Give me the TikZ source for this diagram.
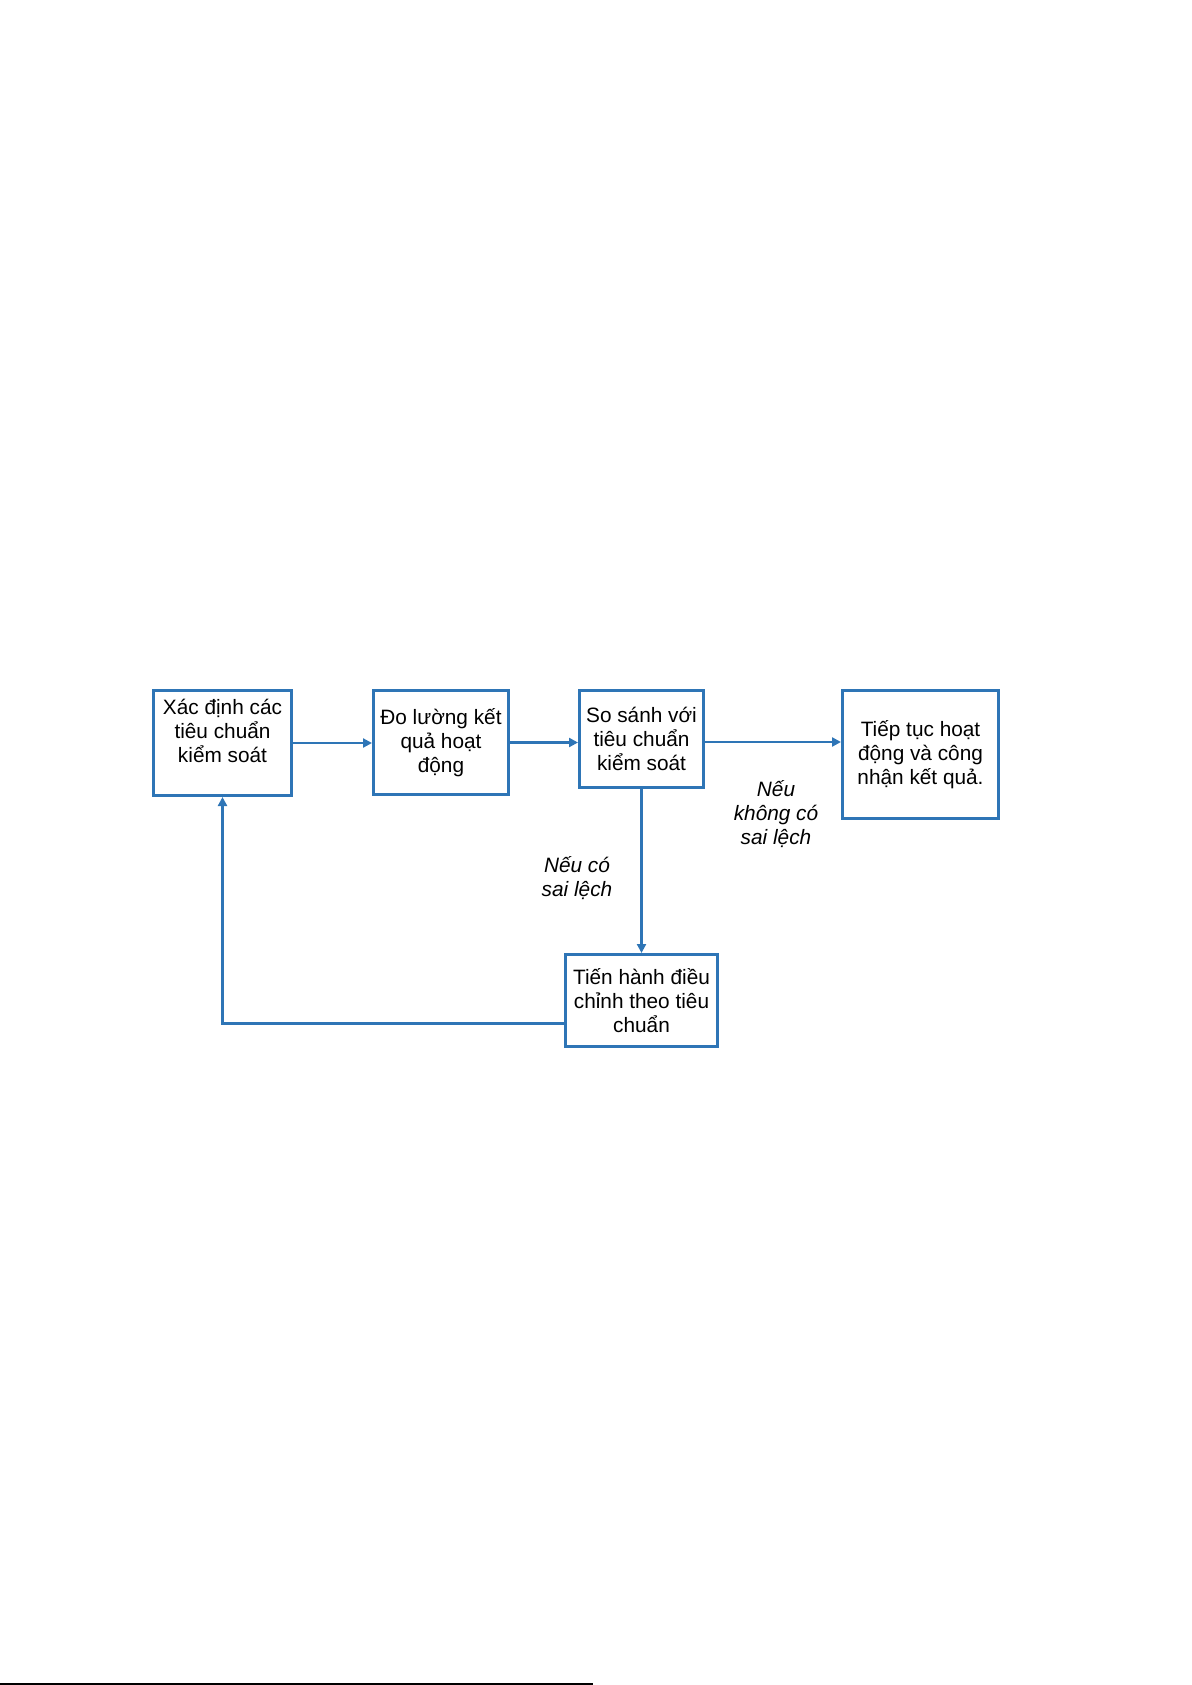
\documentclass[tikz,border=0pt]{standalone}
\usepackage{fontspec}
\setmainfont{Liberation Sans}
\usetikzlibrary{arrows.meta,positioning}
\definecolor{FlowBlue}{HTML}{2E75B6}

\begin{document}
\begin{tikzpicture}[
    box/.style={draw=FlowBlue,line width=1.5pt,align=center,inner sep=2pt,
                font=\fontsize{10.4}{12}\selectfont},
    arr/.style={-{Triangle[length=4.5pt,width=4.5pt]},line width=1.3pt,FlowBlue},
    note/.style={align=center,font=\fontsize{10.4}{12}\selectfont\itshape}]
    \useasboundingbox (0,0) rectangle (595.5pt,-842.5pt);
    \node[box,minimum width=69pt,minimum height=52.5pt,anchor=north west] (std) at (76pt,-344.5pt)
        {Xác định các\\tiêu chuẩn\\kiểm soát\\\mbox{}};
    \node[box,minimum width=67.5pt,minimum height=52pt,below right=0pt and 39.5pt of std.north east] (meas)
        {Đo lường kết\\quả hoạt\\động};
    \node[box,minimum width=62pt,minimum height=48.5pt,below right=0pt and 34pt of meas.north east] (cmp)
        {So sánh với\\tiêu chuẩn\\kiểm soát};
    \node[box,minimum width=78pt,minimum height=64pt,below right=0pt and 68pt of cmp.north east] (cont)
        {Tiếp tục hoạt\\động và công\\nhận kết quả.};
    \node[box,minimum width=76pt,minimum height=46pt,below=82pt of cmp] (adj)
        {Tiến hành điều\\chỉnh theo tiêu\\chuẩn};
    \draw[arr] (std.east) -- (std.east -| meas.west);
    \draw[arr] (meas.east) -- (meas.east -| cmp.west);
    \draw[arr] ([yshift=-1.5pt]cmp.east) -- ([yshift=-1.5pt]cmp.east -| cont.west);
    \draw[arr] (cmp.south) -- (adj.north);
    \draw[arr] ([yshift=-11.5pt]adj.west) -| (std.south);
    \node[note] (dev) at (288.5pt,-439pt) {Nếu có\\sai lệch};
    \node[note] (nodev) at (388pt,-407pt) {Nếu\\không có\\sai lệch};
    % page edge rule
    \draw[black,line width=0.8pt] (0,-842pt) -- (296.5pt,-842pt);
  \end{tikzpicture}
\end{document}
